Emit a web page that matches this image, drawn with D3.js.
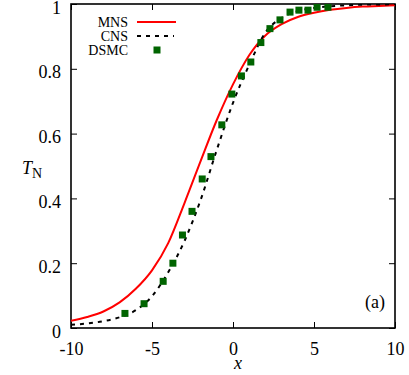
<!DOCTYPE html>
<html>
<head>
<meta charset="utf-8">
<script src="https://cdn.jsdelivr.net/npm/d3@7"></script>
<style>
  body { margin: 0; background: #fff; }
  svg text { font-family: "Liberation Serif", "DejaVu Serif", serif; }
</style>
</head>
<body>
<div id="chart"></div>
<script>
// curves
const mnsX = [-10, -9, -8, -7, -6, -5, -4, -3, -2, -1, 0, 1, 2, 3, 4, 5, 6, 7, 8, 9, 10];
const mnsY = [0.022, 0.034, 0.051, 0.079, 0.121, 0.178, 0.262, 0.385, 0.515, 0.642, 0.752, 0.842, 0.903, 0.938, 0.960, 0.973, 0.982, 0.988, 0.992, 0.994, 0.996];

const cnsX = [-10, -9, -8, -7, -6, -5, -4, -3, -2, -1, 0, 1, 2, 3, 4, 5, 6, 7, 8, 10];
const cnsY = [0.010, 0.014, 0.021, 0.033, 0.055, 0.098, 0.172, 0.268, 0.395, 0.550, 0.695, 0.812, 0.912, 0.957, 0.978, 0.988, 0.993, 0.996, 0.998, 0.999];

const dsmcX = [-6.67, -5.49, -4.31, -3.71, -3.12, -2.53, -1.9, -1.36, -0.69, -0.07, 0.52, 1.1, 1.72, 2.28, 2.9, 3.52, 4.07, 4.63, 5.19, 5.86];
const dsmcY = [0.045, 0.075, 0.144, 0.200, 0.287, 0.360, 0.460, 0.529, 0.627, 0.722, 0.778, 0.821, 0.881, 0.924, 0.951, 0.975, 0.981, 0.981, 0.990, 0.990];

const xTicks = [-10, -5, 0, 5, 10];
const yTicks = [0, 0.2, 0.4, 0.6, 0.8, 1];
const yTickLabels = ["0", "0.2", "0.4", "0.6", "0.8", "1"];

const W = 409, H = 375;
const pLeft = 71, pRight = 395, pTop = 4, pBottom = 328;

const svg = d3.select("#chart").append("svg")
    .attr("width", W)
    .attr("height", H);

const x = d3.scaleLinear().domain([-10, 10]).range([pLeft, pRight]);
const y = d3.scaleLinear().domain([0, 1]).range([pBottom, pTop]);

svg.append("clipPath").attr("id", "clip")
  .append("rect")
    .attr("x", pLeft).attr("y", pTop)
    .attr("width", pRight - pLeft).attr("height", pBottom - pTop);

// axes, gnuplot style ticks pointing inwards
function styleAxis(g) {
  g.select(".domain").remove();
  g.selectAll(".tick line").attr("stroke", "#000").attr("stroke-width", 1);
  g.selectAll("text").attr("fill", "#000").style("font-size", "18px");
}

svg.append("g")
    .attr("transform", "translate(0," + pBottom + ")")
    .call(d3.axisBottom(x).tickValues(xTicks).tickSize(-6).tickPadding(14)
      .tickFormat(d => String(d)))
    .call(styleAxis);

svg.append("g")
    .attr("transform", "translate(0," + pTop + ")")
    .call(d3.axisTop(x).tickValues(xTicks).tickSize(-6).tickFormat(""))
    .call(styleAxis);

svg.append("g")
    .attr("transform", "translate(" + pLeft + ",0)")
    .call(d3.axisLeft(y).tickValues(yTicks).tickSize(-6).tickPadding(10)
      .tickFormat((d, i) => yTickLabels[i]))
    .call(styleAxis)
    .selectAll("text").attr("dy", "0.5em");

svg.append("g")
    .attr("transform", "translate(" + pRight + ",0)")
    .call(d3.axisRight(y).tickValues(yTicks).tickSize(-6).tickFormat(""))
    .call(styleAxis);

svg.append("rect")
    .attr("x", pLeft).attr("y", pTop)
    .attr("width", pRight - pLeft).attr("height", pBottom - pTop)
    .attr("fill", "none")
    .attr("stroke", "#000")
    .attr("stroke-width", 1.6);

const line = d3.line()
    .x(d => x(d[0]))
    .y(d => y(d[1]))
    .curve(d3.curveMonotoneX);

const plot = svg.append("g").attr("clip-path", "url(#clip)");

plot.append("path")
    .datum(d3.zip(mnsX, mnsY))
    .attr("fill", "none")
    .attr("stroke", "#ff0000")
    .attr("stroke-width", 2)
    .attr("d", line);

plot.append("path")
    .datum(d3.zip(cnsX, cnsY))
    .attr("fill", "none")
    .attr("stroke", "#000")
    .attr("stroke-width", 2)
    .attr("stroke-dasharray", "4,5")
    .attr("d", line);

const sq = 7;
plot.selectAll("rect.dsmc")
    .data(d3.zip(dsmcX, dsmcY))
    .join("rect")
    .attr("class", "dsmc")
    .attr("x", d => x(d[0]) - sq / 2)
    .attr("y", d => y(d[1]) - sq / 2)
    .attr("width", sq)
    .attr("height", sq)
    .attr("fill", "#006400");

// legend
const legend = [
  {name: "MNS", y: 22},
  {name: "CNS", y: 36},
  {name: "DSMC", y: 50}
];
const lg = svg.append("g");
lg.selectAll("text")
    .data(legend)
    .join("text")
    .attr("x", 128)
    .attr("y", d => d.y + 5)
    .attr("text-anchor", "end")
    .style("font-size", "14px")
    .text(d => d.name);

lg.append("line")
    .attr("x1", 137).attr("x2", 176)
    .attr("y1", 22).attr("y2", 22)
    .attr("stroke", "#ff0000").attr("stroke-width", 2);
lg.append("line")
    .attr("x1", 137).attr("x2", 174)
    .attr("y1", 36).attr("y2", 36)
    .attr("stroke", "#000").attr("stroke-width", 2)
    .attr("stroke-dasharray", "4,5");
lg.append("rect")
    .attr("x", 157 - sq / 2).attr("y", 50 - sq / 2)
    .attr("width", sq).attr("height", sq)
    .attr("fill", "#006400");

// labels
svg.append("text")
    .attr("x", 238)
    .attr("y", 369)
    .attr("text-anchor", "middle")
    .style("font-size", "18px")
    .style("font-style", "italic")
    .text("x");

const tl = svg.append("text")
    .attr("x", 22)
    .attr("y", 174)
    .style("font-size", "18px");
tl.append("tspan").style("font-style", "italic").text("T");
tl.append("tspan").attr("dy", 4).style("font-size", "14px").text("N");

svg.append("text")
    .attr("x", 385)
    .attr("y", 308)
    .attr("text-anchor", "end")
    .style("font-size", "18px")
    .text("(a)");
</script>
</body>
</html>
